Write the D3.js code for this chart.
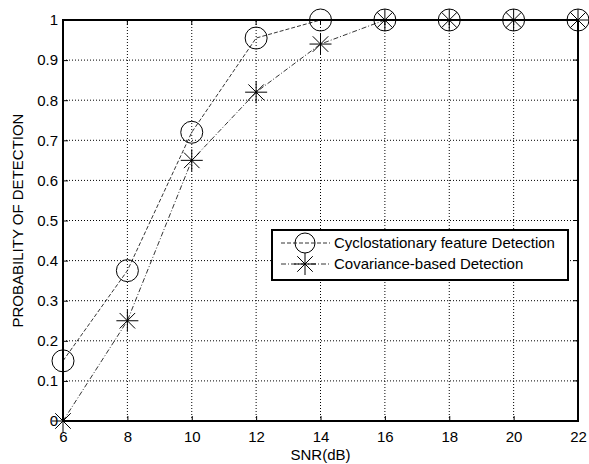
<!DOCTYPE html>
<html>
<head>
<meta charset="utf-8">
<script src="https://cdn.jsdelivr.net/npm/d3@7"></script>
<style>
  html, body { margin: 0; padding: 0; background: #fff; }
  svg { display: block; }
  text { font-family: "Liberation Sans", Arial, sans-serif; fill: #000; }
</style>
</head>
<body>
<svg id="chart" width="589" height="464"></svg>
<script>
// ---- data ----
const snr = [6, 8, 10, 12, 14, 16, 18, 20, 22];
const cyclostationary = [0.15, 0.375, 0.72, 0.955, 1, 1, 1, 1, 1];
const covariance = [0, 0.25, 0.65, 0.82, 0.94, 1, 1, 1, 1];
const xTicks = [6, 8, 10, 12, 14, 16, 18, 20, 22];
const yTicks = [0, 0.1, 0.2, 0.3, 0.4, 0.5, 0.6, 0.7, 0.8, 0.9, 1];
const seriesNames = ["Cyclostationary feature Detection", "Covariance-based Detection"];

// ---- layout ----
const W = 589, H = 464;
const m = { left: 63, right: 11, top: 20, bottom: 43 };
const FS = "15px";
const svg = d3.select("#chart");
const x = d3.scaleLinear().domain([6, 22]).range([m.left, W - m.right]);
const y = d3.scaleLinear().domain([0, 1]).range([H - m.bottom, m.top]);

// grid
const grid = svg.append("g");
grid.selectAll("line.gx").data(xTicks.slice(1, -1)).enter().append("line")
  .attr("x1", d => x(d)).attr("x2", d => x(d))
  .attr("y1", y(0)).attr("y2", y(1))
  .attr("stroke", "#000").attr("stroke-width", 1).attr("stroke-dasharray", "1,2");
grid.selectAll("line.gy").data(yTicks.slice(1, -1)).enter().append("line")
  .attr("y1", d => y(d)).attr("y2", d => y(d))
  .attr("x1", x(6)).attr("x2", x(22))
  .attr("stroke", "#000").attr("stroke-width", 1).attr("stroke-dasharray", "1,2");

// axes
const xAxis = d3.axisBottom(x).tickValues(xTicks).tickSize(-5).tickPadding(10).tickFormat(d3.format("d"));
const yAxis = d3.axisLeft(y).tickValues(yTicks).tickSize(-5).tickPadding(5).tickFormat(d => d === 0 ? "0" : d === 1 ? "1" : d3.format(".1f")(d));
const gx = svg.append("g").attr("transform", `translate(0,${y(0)})`).call(xAxis);
const gy = svg.append("g").attr("transform", `translate(${x(6)},0)`).call(yAxis);
[gx, gy].forEach(g => {
  g.select(".domain").remove();
  g.selectAll("line").attr("stroke", "#000");
  g.selectAll("text").style("font-size", FS).style("font-family", "Liberation Sans, Arial, sans-serif");
});
// top / right ticks
svg.append("g").selectAll("line").data(xTicks).enter().append("line")
  .attr("x1", d => x(d)).attr("x2", d => x(d)).attr("y1", y(1)).attr("y2", y(1) + 5).attr("stroke", "#000");
svg.append("g").selectAll("line").data(yTicks).enter().append("line")
  .attr("y1", d => y(d)).attr("y2", d => y(d)).attr("x1", x(22)).attr("x2", x(22) - 5).attr("stroke", "#000");

// frame
svg.append("rect").attr("x", x(6)).attr("y", y(1)).attr("width", x(22) - x(6)).attr("height", y(0) - y(1))
  .attr("fill", "none").attr("stroke", "#000").attr("stroke-width", 2);

// markers
function star(g, cx, cy, r) {
  const d = r * Math.SQRT1_2;
  const p = `M${cx - r},${cy}L${cx + r},${cy}M${cx},${cy - r}L${cx},${cy + r}` +
            `M${cx - d},${cy - d}L${cx + d},${cy + d}M${cx - d},${cy + d}L${cx + d},${cy - d}`;
  g.append("path").attr("d", p).attr("stroke", "#000").attr("stroke-width", 1).attr("fill", "none");
}
function circ(g, cx, cy, r) {
  g.append("circle").attr("cx", cx).attr("cy", cy).attr("r", r).attr("fill", "none").attr("stroke", "#000").attr("stroke-width", 1);
}

const line = d3.line().x(d => x(d[0])).y(d => y(d[1]));
const d1 = snr.map((s, i) => [s, cyclostationary[i]]);
const d2 = snr.map((s, i) => [s, covariance[i]]);
const plot = svg.append("g");
plot.append("path").datum(d1).attr("d", line).attr("fill", "none").attr("stroke", "#000").attr("stroke-width", 0.8).attr("stroke-dasharray", "4,2");
plot.append("path").datum(d2).attr("d", line).attr("fill", "none").attr("stroke", "#000").attr("stroke-width", 0.8).attr("stroke-dasharray", "5,2,1,2");
d1.forEach(d => circ(plot, x(d[0]), y(d[1]), 11));
d2.forEach(d => star(plot, x(d[0]), y(d[1]), 11));

// labels
svg.append("text").attr("x", (x(6) + x(22)) / 2).attr("y", 460).attr("text-anchor", "middle")
  .style("font-size", FS).text("SNR(dB)");
svg.append("text").attr("transform", `translate(23,${(y(0) + y(1)) / 2}) rotate(-90)`).attr("text-anchor", "middle")
  .style("font-size", FS).text("PROBABILITY OF DETECTION");

// legend
const lg = svg.append("g");
lg.append("rect").attr("x", 272).attr("y", 230).attr("width", 296).attr("height", 50)
  .attr("fill", "#fff").attr("stroke", "#000").attr("stroke-width", 2);
const rows = [243, 264];
lg.append("line").attr("x1", 281).attr("x2", 330).attr("y1", rows[0]).attr("y2", rows[0])
  .attr("stroke", "#000").attr("stroke-width", 0.8).attr("stroke-dasharray", "4,2");
lg.append("line").attr("x1", 281).attr("x2", 330).attr("y1", rows[1]).attr("y2", rows[1])
  .attr("stroke", "#000").attr("stroke-width", 0.8).attr("stroke-dasharray", "5,2,1,2");
circ(lg, 305, rows[0], 10);
star(lg, 305, rows[1], 11);
seriesNames.forEach((n, i) => {
  lg.append("text").attr("x", 334).attr("y", rows[i]).attr("dy", "0.35em").style("font-size", FS).text(n);
});
</script>
</body>
</html>
